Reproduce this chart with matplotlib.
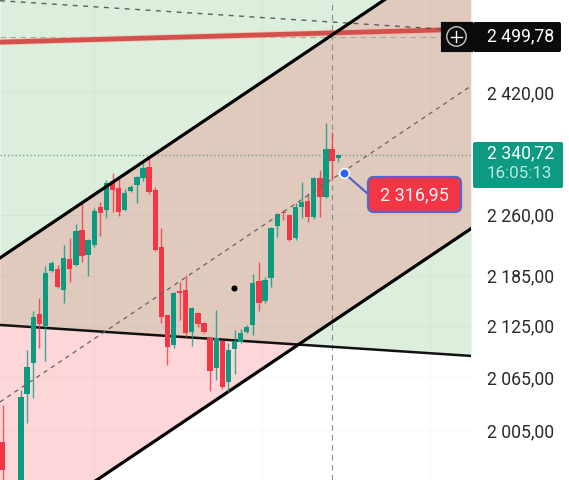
#!/usr/bin/env python3
"""Candlestick chart with a price channel, redrawn from a mobile screenshot."""
import matplotlib
matplotlib.use("Agg")
import matplotlib.pyplot as plt
from matplotlib.patches import Circle, FancyBboxPatch

plt.rcParams["font.family"] = ["Roboto", "DejaVu Sans"]

# candles, prices
bar_idx = [0, 3, 4, 5, 6, 7, 8, 9, 10, 11, 12, 13, 14, 15, 16, 17, 18, 19,
           20, 21, 22, 23, 24, 25, 26, 27, 28, 29, 30, 31, 32, 33, 34, 35, 36, 37, 38, 39,
           40, 41, 42, 43, 44, 45, 46, 47, 48, 49, 50, 51, 52, 53, 54, 55]
opens = [1992, 1939, 2046, 2081, 2139, 2124, 2190, 2193, 2167, 2205, 2198, 2241, 2210, 2222, 2270, 2266, 2303, 2294,
         2266, 2290, 2298, 2307, 2321, 2291, 2220, 2137, 2102, 2166, 2167, 2117, 2140, 2128, 2110, 2075, 2107, 2059, 2097, 2106,
         2117, 2126, 2178, 2154, 2182, 2246, 2264, 2260, 2231, 2270, 2277, 2257, 2307, 2283, 2344, 2332]
highs = [2033, 2050, 2096, 2142, 2158, 2196, 2203, 2198, 2222, 2231, 2249, 2276, 2230, 2269, 2276, 2304, 2313, 2307,
         2293, 2298, 2309, 2326, 2333, 2295, 2244, 2138, 2165, 2177, 2186, 2147, 2141, 2129, 2111, 2143, 2108, 2104, 2120, 2121,
         2126, 2187, 2202, 2183, 2245, 2262, 2266, 2261, 2275, 2302, 2288, 2308, 2317, 2378, 2366, 2338]
lows = [1944, 1933, 2013, 2041, 2099, 2083, 2189, 2170, 2152, 2177, 2197, 2202, 2184, 2220, 2234, 2256, 2264, 2258,
        2265, 2289, 2275, 2303, 2286, 2215, 2128, 2079, 2099, 2132, 2111, 2101, 2123, 2116, 2049, 2062, 2051, 2048, 2069, 2105,
        2116, 2114, 2142, 2152, 2171, 2232, 2254, 2227, 2229, 2256, 2251, 2255, 2257, 2281, 2304, 2327]
closes = [1961, 2042, 2077, 2135, 2127, 2188, 2200, 2171, 2206, 2193, 2240, 2209, 2229, 2265, 2262, 2300, 2291, 2264,
          2288, 2295, 2308, 2320, 2289, 2216, 2135, 2100, 2164, 2164, 2116, 2146, 2127, 2117, 2072, 2110, 2053, 2096, 2107, 2116,
          2123, 2176, 2152, 2180, 2244, 2261, 2262, 2229, 2270, 2276, 2257, 2307, 2283, 2344, 2329, 2337]

# price axis
tick_values = [2420, 2260, 2185, 2125, 2065, 2005]
tick_labels = ["2 420,00", "2 260,00", "2 185,00", "2 125,00", "2 065,00", "2 005,00"]
grid_bars = [15, 42.5, 70]

# drawings, at the left and right edge of the chart
edge_x = [-0.443, 76.77]
upper_line = [2206.5, 2631]
middle_line = [2036.5, 2428]
lower_line = [1880.7, 2242.7]
support_line = [2125.7, 2089.4]
top_limit = [2700, 2700]
red_x = [-0.443, 72.2]
red_line = [2488, 2505]
thin_line = [2546, 2506]

crosshair_bar = 54
crosshair_price = 2495
last_price = 2337
note_bar = 56
note_price = 2313
dot_bar = 37.9
dot_price = 2170

GREEN = "#0e9a80"
RED = "#f23645"

fig = plt.figure(figsize=(5.69, 4.80), dpi=100)
ax = fig.add_axes([0, 0, 471 / 569, 1])
ax.set_yscale("log")
ax.set_xlim(edge_x)
ax.set_ylim(1950, 2547)

# the two zones overlap, that gives the brown part
ax.fill_between(edge_x, support_line, top_limit, color=(0.298, 0.686, 0.314), alpha=0.2, lw=0, zorder=1)
ax.fill_between(edge_x, lower_line, upper_line, color=(0.949, 0.212, 0.271), alpha=0.2, lw=0, zorder=1.1)

ax.yaxis.tick_right()
ax.set_yticks(tick_values, tick_labels)
ax.minorticks_off()
ax.set_xticks(grid_bars, [""] * len(grid_bars))
ax.tick_params(axis="both", length=0)
ax.tick_params(axis="y", labelsize=12.7, labelcolor="#2a2a2a", pad=11.5)
ax.grid(True, color="#8a8a8a", alpha=0.08, lw=0.7)
ax.set_axisbelow(False)
for sp in ax.spines.values():
    sp.set_visible(False)

ax.plot(edge_x, support_line, color="#111111", lw=1.8, zorder=2.5)
ax.plot(edge_x, lower_line, color="black", lw=2.3, zorder=2.5)
ax.plot(edge_x, upper_line, color="black", lw=2.3, zorder=4)
ax.plot(edge_x, middle_line, color="#6b6259", lw=0.9, dashes=(3.5, 3.5), zorder=4)
ax.plot(red_x, red_line, color="#f6b7a8", lw=4.6, alpha=0.7, zorder=2.2, solid_capstyle="butt")
ax.plot(red_x, red_line, color="#d3504c", lw=3.4, zorder=2.3, solid_capstyle="butt")
ax.plot(red_x, thin_line, color="#55605a", lw=1.0, dashes=(3.5, 4), zorder=2.4)

ax.axvline(crosshair_bar, color="#8c8c8c", lw=0.8, dashes=(5, 4), zorder=2.1)
ax.plot(red_x, [crosshair_price, crosshair_price], color="#a8a8a0", lw=0.8, dashes=(5, 4), zorder=2.1)
ax.axhline(last_price, color="#6f8f7d", lw=0.9, dashes=(1, 2), zorder=2.1)

# candles
for i, o, h, l, c in zip(bar_idx, opens, highs, lows, closes):
    col = GREEN if c >= o else RED
    ax.vlines(i, l, h, color=col, lw=1.0, alpha=0.8, zorder=3)
    ax.bar(i, abs(c - o), bottom=min(o, c), width=0.88, color=col, lw=0, zorder=3.1)

ax.plot([dot_bar], [dot_price], "o", color="black", ms=4.4, mew=0, zorder=5)

# callout line and its dot
ax.annotate("", xy=(note_bar, note_price), xytext=(368, 480 - 194), textcoords="figure pixels",
            arrowprops=dict(arrowstyle="-", color="#4a5fc8", lw=1.5, shrinkA=0, shrinkB=0), zorder=5)
ax.plot([note_bar], [note_price], "o", color="#2962ff", ms=6.8, mec="white", mew=1.1, zorder=6)

# overlay in pixels for price tags and buttons
ov = fig.add_axes([0, 0, 1, 1])
ov.set_xlim(0, 569)
ov.set_ylim(480, 0)
ov.axis("off")

ov.add_patch(FancyBboxPatch((443, 24), 28, 26, boxstyle="round,pad=0,rounding_size=0", fc="#0b0b0b", ec="#0b0b0b", lw=3))
ov.add_patch(FancyBboxPatch((475, 24), 84, 26, boxstyle="round,pad=2,rounding_size=2", fc="#0b0b0b", ec="none"))
ov.add_patch(Circle((456.5, 36.5), 9.7, fc="none", ec="#c8c8c8", lw=1.0))
ov.plot([451, 462], [36.5, 36.5], color="white", lw=1.0)
ov.plot([456.5, 456.5], [31, 42], color="white", lw=1.0)
ov.text(487, 36.5, "2 499,78", color="white", fontsize=12.7, va="center", ha="left")

ov.add_patch(FancyBboxPatch((473, 142), 90, 46, boxstyle="round,pad=0,rounding_size=2", fc="#0d9a82", ec="none"))
ov.text(487, 153.5, "2 340,72", color="white", fontsize=12.7, va="center", ha="left")
ov.text(487, 174, "16:05:13", color="#b7ece0", fontsize=12.2, va="center", ha="left")

ov.add_patch(FancyBboxPatch((373, 182), 83, 25, boxstyle="round,pad=5,rounding_size=6", fc=RED, ec="#5c62c6", lw=1.6))
ov.text(414.5, 195.5, "2 316,95", color="#fff1f1", fontsize=13, va="center", ha="center")

fig.savefig("out.png", dpi=100)
